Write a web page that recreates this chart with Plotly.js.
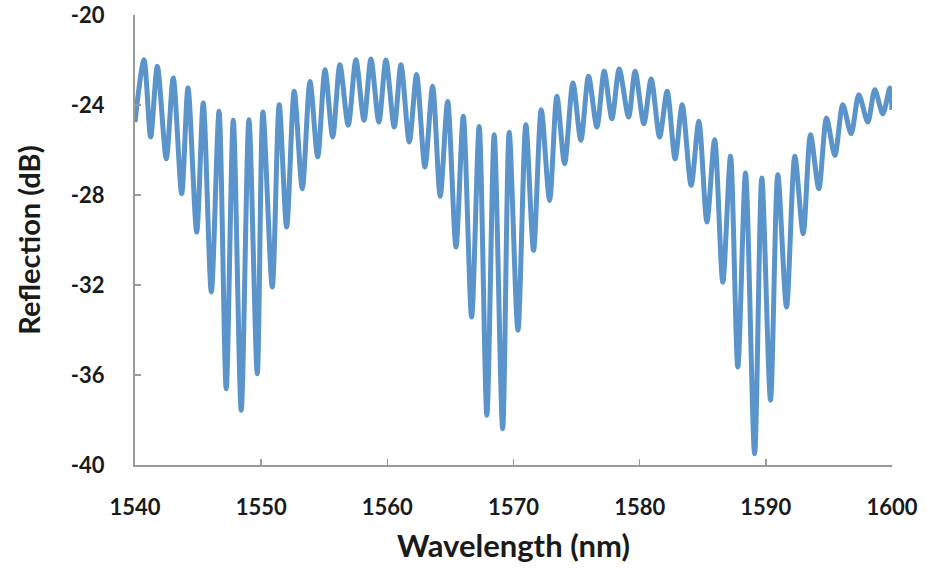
<!DOCTYPE html>
<html>
<head>
<meta charset="utf-8">
<script src="https://cdn.plot.ly/plotly-3.0.1.min.js"></script>
<style>
  html, body { margin: 0; padding: 0; background: #ffffff; }
  #chart { width: 927px; height: 571px; }
</style>
</head>
<body>
<div id="chart"></div>
<script>
const wavelength = [
  1540.00, 1540.71, 1541.24, 1541.77, 1542.48, 1543.03, 1543.70, 1544.20, 1544.89, 1545.41,
  1546.05, 1546.66, 1547.23, 1547.79, 1548.42, 1549.03, 1549.69, 1550.14, 1550.88, 1551.43,
  1552.02, 1552.62, 1553.26, 1553.87, 1554.48, 1555.06, 1555.67, 1556.24, 1556.90, 1557.51,
  1558.15, 1558.70, 1559.33, 1559.89, 1560.55, 1561.08, 1561.74, 1562.32, 1562.98, 1563.59,
  1564.19, 1564.78, 1565.44, 1566.02, 1566.68, 1567.28, 1567.89, 1568.47, 1569.14, 1569.66,
  1570.35, 1570.98, 1571.59, 1572.20, 1572.86, 1573.44, 1574.05, 1574.71, 1575.34, 1575.95,
  1576.61, 1577.19, 1577.80, 1578.38, 1579.12, 1579.64, 1580.33, 1580.91, 1581.58, 1582.18,
  1582.81, 1583.37, 1584.08, 1584.69, 1585.33, 1585.94, 1586.59, 1587.20, 1587.78, 1588.39,
  1589.11, 1589.68, 1590.37, 1590.95, 1591.64, 1592.30, 1592.96, 1593.54, 1594.20, 1594.81,
  1595.47, 1596.10, 1596.76, 1597.37, 1598.08, 1598.64, 1599.27, 1599.83, 1600.00
];
// Reflection (dB) at those wavelengths
const reflection = [
  -24.76, -21.99, -25.42, -22.28, -26.39, -22.80, -27.94, -23.24, -29.64, -23.91,
  -32.31, -24.28, -36.61, -24.68, -37.57, -24.65, -35.94, -24.31, -32.09, -23.99,
  -29.42, -23.39, -27.72, -22.95, -26.31, -22.43, -25.42, -22.21, -24.90, -21.99,
  -24.68, -21.96, -24.76, -22.00, -24.98, -22.21, -25.64, -22.65, -26.76, -23.17,
  -28.06, -23.84, -30.31, -24.50, -33.42, -24.95, -37.79, -25.32, -38.39, -25.21,
  -34.01, -24.88, -30.46, -24.21, -28.24, -23.61, -26.61, -23.02, -25.57, -22.72,
  -24.98, -22.50, -24.61, -22.40, -24.53, -22.50, -24.83, -22.84, -25.42, -23.39,
  -26.39, -23.99, -27.57, -24.72, -29.20, -25.54, -31.87, -26.28, -35.64, -27.02,
  -39.50, -27.24, -37.12, -27.10, -32.98, -26.28, -29.72, -25.32, -27.72, -24.58,
  -26.24, -23.99, -25.28, -23.54, -24.76, -23.32, -24.39, -23.24, -24.22
];
const xTickVals = [1540, 1550, 1560, 1570, 1580, 1590, 1600];
const xTickText = ['1540', '1550', '1560', '1570', '1580', '1590', '1600'];
const yTickVals = [-40, -36, -32, -28, -24, -20];
const yTickText = ['-40', '-36', '-32', '-28', '-24', '-20'];

const axisColor = '#9a9a9a';
const textColor = '#1a1a1a';
const fontFamily = 'Lato, "Open Sans", sans-serif';

const trace = {
  type: 'scatter',
  mode: 'lines',
  x: wavelength,
  y: reflection,
  line: { color: '#5b94cb', width: 5, shape: 'spline', smoothing: 0.8 },
  hoverinfo: 'x+y'
};

const layout = {
  width: 927,
  height: 571,
  margin: { l: 135, r: 35, t: 15, b: 106 },
  paper_bgcolor: '#ffffff',
  plot_bgcolor: '#ffffff',
  showlegend: false,
  font: { family: fontFamily, color: textColor },
  xaxis: {
    range: [1540, 1600],
    tickmode: 'array',
    tickvals: xTickVals,
    ticktext: xTickText,
    showgrid: false,
    zeroline: false,
    showline: true,
    linecolor: axisColor,
    linewidth: 2,
    ticks: 'inside',
    ticklen: 6,
    tickwidth: 1.5,
    tickcolor: axisColor,
    ticklabelstandoff: 22,
    tickfont: { family: fontFamily, size: 22, weight: 'bold', color: textColor },
    title: { text: 'Wavelength (nm)', font: { family: fontFamily, size: 31, weight: 'bold', color: textColor }, standoff: 16 },
    automargin: false
  },
  yaxis: {
    range: [-40, -20],
    tickmode: 'array',
    tickvals: yTickVals,
    ticktext: yTickText,
    showgrid: false,
    zeroline: false,
    showline: true,
    linecolor: axisColor,
    linewidth: 2,
    ticks: 'inside',
    ticklen: 6,
    tickwidth: 1.5,
    tickcolor: axisColor,
    ticklabelstandoff: 24,
    tickfont: { family: fontFamily, size: 22, weight: 'bold', color: textColor },
    title: { text: 'Reflection (dB)', font: { family: fontFamily, size: 29, weight: 'bold', color: textColor }, standoff: 22 },
    automargin: false
  }
};

Plotly.newPlot('chart', [trace], layout, { staticPlot: true, displayModeBar: false });
</script>
</body>
</html>
